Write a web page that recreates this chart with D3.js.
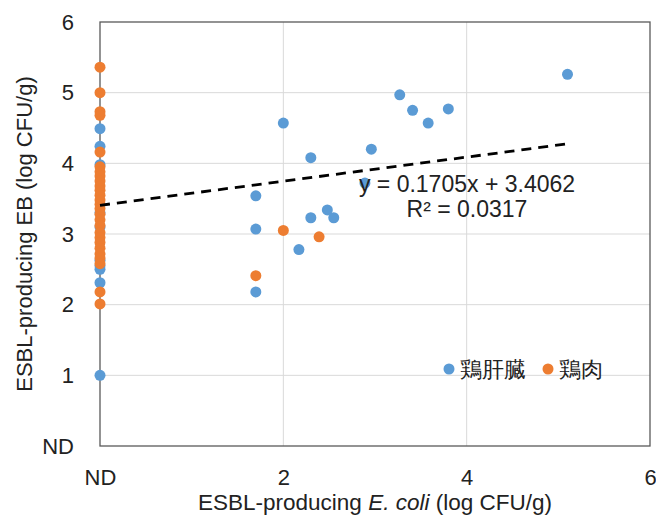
<!DOCTYPE html>
<html><head><meta charset="utf-8">
<script src="https://cdn.jsdelivr.net/npm/d3@7"></script>
<style>body{margin:0;background:#fff}svg{display:block}text{font-family:"Liberation Sans",Arial,sans-serif;fill:#222}</style>
</head><body><svg id="c" width="656" height="518"></svg>
<script>
// Series: 鶏肝臓 (chicken liver) - blue
const liverX = [0,0,0,0,0,0,0,0,0,0, 1.70,1.70,1.70,2.00,2.17,2.30,2.30,2.48,2.55,2.89,2.96,3.27,3.41,3.58,3.80,5.10];
const liverY = [1.00,2.31,2.50,2.55,2.63,3.10,3.30,3.98,4.24,4.49, 3.54,3.07,2.18,4.57,2.78,4.08,3.23,3.34,3.23,3.72,4.20,4.97,4.75,4.57,4.77,5.26];
// Series: 鶏肉 (chicken meat) - orange
const meatX = [0,0,0,0,0,0,0,0,0,0,0,0,0,0,0,0,0,0,0,0,0,0,0,0,0,0,0, 1.70,2.00,2.39];
const meatY = [5.36,5.00,4.73,4.68,4.16,3.95,3.88,3.82,3.75,3.68,3.62,3.55,3.48,3.42,3.36,3.28,3.20,3.12,3.02,2.95,2.88,2.80,2.72,2.66,2.58,2.18,2.01, 2.41,3.05,2.96];
const seriesNames = ["鶏肝臓","鶏肉"];
const seriesColors = ["#5B9BD5","#ED7D31"];
const xTickVals = [0,2,4,6];
const xTickLabels = ["ND","2","4","6"];
const yTickVals = [0,1,2,3,4,5,6];
const yTickLabels = ["ND","1","2","3","4","5","6"];
const slope = 0.1705, intercept = 3.4062;
const eqLabel = "y = 0.1705x + 3.4062";
const r2Label = "R² = 0.0317";
const xTitleParts = ["ESBL-producing ","E. coli"," (log CFU/g)"];
const yTitle = "ESBL-producing EB (log CFU/g)";

const svg = d3.select("#c");
const L=100, R=650, T=22, B=446;
const x = d3.scaleLinear().domain([0,6]).range([L,R]);
const y = d3.scaleLinear().domain([0,6]).range([B,T]);

// grid
svg.append("g").selectAll("line").data(yTickVals.slice(1,-1)).join("line")
  .attr("x1",L).attr("x2",R).attr("y1",d=>y(d)).attr("y2",d=>y(d))
  .attr("stroke","#d9d9d9").attr("stroke-width",1);
svg.append("g").selectAll("line").data(xTickVals.slice(1,-1)).join("line")
  .attr("y1",T).attr("y2",B).attr("x1",d=>x(d)).attr("x2",d=>x(d))
  .attr("stroke","#d9d9d9").attr("stroke-width",1);
// frame
svg.append("rect").attr("x",L).attr("y",T).attr("width",R-L).attr("height",B-T)
  .attr("fill","none").attr("stroke","#595959").attr("stroke-width",1.3);

// axes via d3 axis
const xAxis = d3.axisBottom(x).tickValues(xTickVals).tickFormat((d,i)=>xTickLabels[i]).tickSize(0).tickPadding(23);
const gx = svg.append("g").attr("transform",`translate(0,${B})`).call(xAxis);
gx.select(".domain").remove();
gx.selectAll("text").style("font-size","22px").attr("fill","#222").attr("font-family","Liberation Sans, Arial, sans-serif");
const yAxis = d3.axisLeft(y).tickValues(yTickVals).tickFormat((d,i)=>yTickLabels[i]).tickSize(0).tickPadding(26);
const gy = svg.append("g").attr("transform",`translate(${L},0)`).call(yAxis);
gy.select(".domain").remove();
gy.selectAll("text").style("font-size","22px").attr("fill","#222").attr("font-family","Liberation Sans, Arial, sans-serif");

// points
const r = 5.5;
const liver = liverX.map((v,i)=>({x:v,y:liverY[i]}));
const meat = meatX.map((v,i)=>({x:v,y:meatY[i]}));
svg.append("g").selectAll("circle").data(liver).join("circle")
  .attr("cx",d=>x(d.x)).attr("cy",d=>y(d.y)).attr("r",r).attr("fill",seriesColors[0]);
svg.append("g").selectAll("circle").data(meat).join("circle")
  .attr("cx",d=>x(d.x)).attr("cy",d=>y(d.y)).attr("r",r).attr("fill",seriesColors[1]);

// trendline
const allX = liverX.concat(meatX);
const [xmin,xmax] = d3.extent(allX);
svg.append("line").attr("x1",x(xmin)).attr("y1",y(slope*xmin+intercept))
  .attr("x2",x(xmax)).attr("y2",y(slope*xmax+intercept))
  .attr("stroke","#000").attr("stroke-width",2.8).attr("stroke-dasharray","10,7");

// equation
svg.append("text").attr("x",467).attr("y",192).attr("text-anchor","middle").style("font-size","23px").text(eqLabel);
svg.append("text").attr("x",467).attr("y",217).attr("text-anchor","middle").style("font-size","23px").text(r2Label);

// legend
const leg = svg.append("g");
const legX = [449,548];
seriesNames.forEach((n,i)=>{
  leg.append("circle").attr("cx",legX[i]).attr("cy",369).attr("r",5.5).attr("fill",seriesColors[i]);
  leg.append("text").attr("x",legX[i]+11).attr("y",377).style("font-size","22px")
    .attr("font-family","Noto Sans CJK JP, sans-serif").text(n);
});

// axis titles
const xt = svg.append("text").attr("x",375).attr("y",510).attr("text-anchor","middle").style("font-size","22.5px");
xTitleParts.forEach((p,i)=>xt.append("tspan").attr("font-style",i===1?"italic":"normal").text(p));
svg.append("text").attr("transform",`translate(32,234) rotate(-90)`).attr("text-anchor","middle").style("font-size","22px").text(yTitle);
</script></body></html>
